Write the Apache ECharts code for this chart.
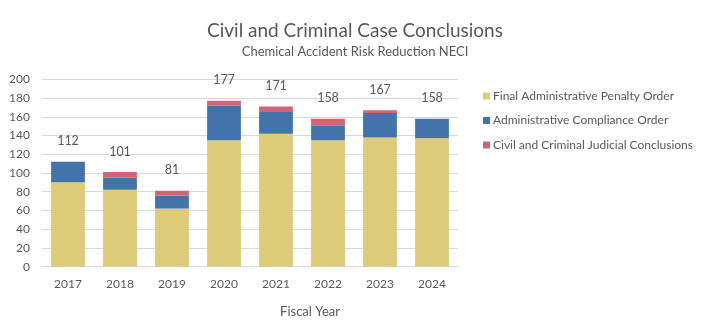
<!DOCTYPE html>
<html>
<head>
<meta charset="utf-8">
<script src="https://cdn.jsdelivr.net/npm/echarts@6/dist/echarts.min.js"></script>
<style>
  html, body { margin: 0; padding: 0; background: #fff; }
  #chart { width: 701px; height: 328px; }
</style>
</head>
<body>
<div id="chart"></div>
<script>
// Fiscal years and case conclusion counts per category
const years = ['2017', '2018', '2019', '2020', '2021', '2022', '2023', '2024'];
const penaltyOrders = [90, 82, 62, 135, 142, 135, 138, 137];
const complianceOrders = [22, 13, 14, 37, 23, 16, 26, 21];
const judicialConclusions = [0, 6, 5, 5, 6, 7, 3, 0];
const yTicks = [0, 20, 40, 60, 80, 100, 120, 140, 160, 180, 200];

const totals = years.map((_, i) => penaltyOrders[i] + complianceOrders[i] + judicialConclusions[i]);

const FONT = 'Lato';
const TEXT = '#595959';

const chart = echarts.init(document.getElementById('chart'));
chart.setOption({
  animation: false,
  textStyle: { fontFamily: FONT },
  title: [
    {
      text: 'Civil and Criminal Case Conclusions',
      left: 350, top: 16, textAlign: 'center',
      textStyle: { fontFamily: FONT, fontSize: 19, fontWeight: 'normal', color: TEXT }
    },
    {
      text: 'Chemical Accident Risk Reduction NECI',
      left: 350, top: 40, textAlign: 'center',
      textStyle: { fontFamily: FONT, fontSize: 13, fontWeight: 'normal', color: TEXT }
    },
    {
      text: 'Fiscal Year',
      left: 305, top: 300, textAlign: 'center',
      textStyle: { fontFamily: FONT, fontSize: 13, fontWeight: 'normal', color: TEXT }
    }
  ],
  legend: {
    orient: 'vertical',
    left: 478, top: 85,
    itemWidth: 7, itemHeight: 7, itemGap: 12.5,
    icon: 'rect',
    textStyle: { fontFamily: FONT, fontSize: 12, color: TEXT, padding: [0, 0, 0, -2] },
    data: ['Final Administrative Penalty Order', 'Administrative Compliance Order', 'Civil and Criminal Judicial Conclusions']
  },
  grid: { left: 42, right: 243, top: 79.3, bottom: 61.3, containLabel: false },
  xAxis: {
    type: 'category',
    data: years,
    axisLine: { lineStyle: { color: '#d9d9d9' } },
    axisTick: { show: false },
    axisLabel: { color: TEXT, fontSize: 12, margin: 11, fontFamily: FONT }
  },
  yAxis: {
    type: 'value',
    min: yTicks[0], max: yTicks[yTicks.length - 1], interval: 20,
    axisLine: { show: false },
    axisTick: { show: false },
    axisLabel: { color: TEXT, fontSize: 12, margin: 12, fontFamily: FONT },
    splitLine: { lineStyle: { color: '#d9d9d9' } }
  },
  series: [
    {
      name: 'Final Administrative Penalty Order',
      type: 'bar', stack: 'cases', barWidth: '65%',
      itemStyle: { color: '#dccb78' },
      data: penaltyOrders
    },
    {
      name: 'Administrative Compliance Order',
      type: 'bar', stack: 'cases',
      itemStyle: { color: '#4374a9' },
      data: complianceOrders
    },
    {
      name: 'Civil and Criminal Judicial Conclusions',
      type: 'bar', stack: 'cases',
      itemStyle: { color: '#d16577' },
      data: judicialConclusions,
      label: {
        show: true, position: 'top', distance: 14,
        color: TEXT, fontSize: 12.5, fontFamily: FONT,
        formatter: p => String(totals[p.dataIndex])
      }
    }
  ]
});
</script>
</body>
</html>
